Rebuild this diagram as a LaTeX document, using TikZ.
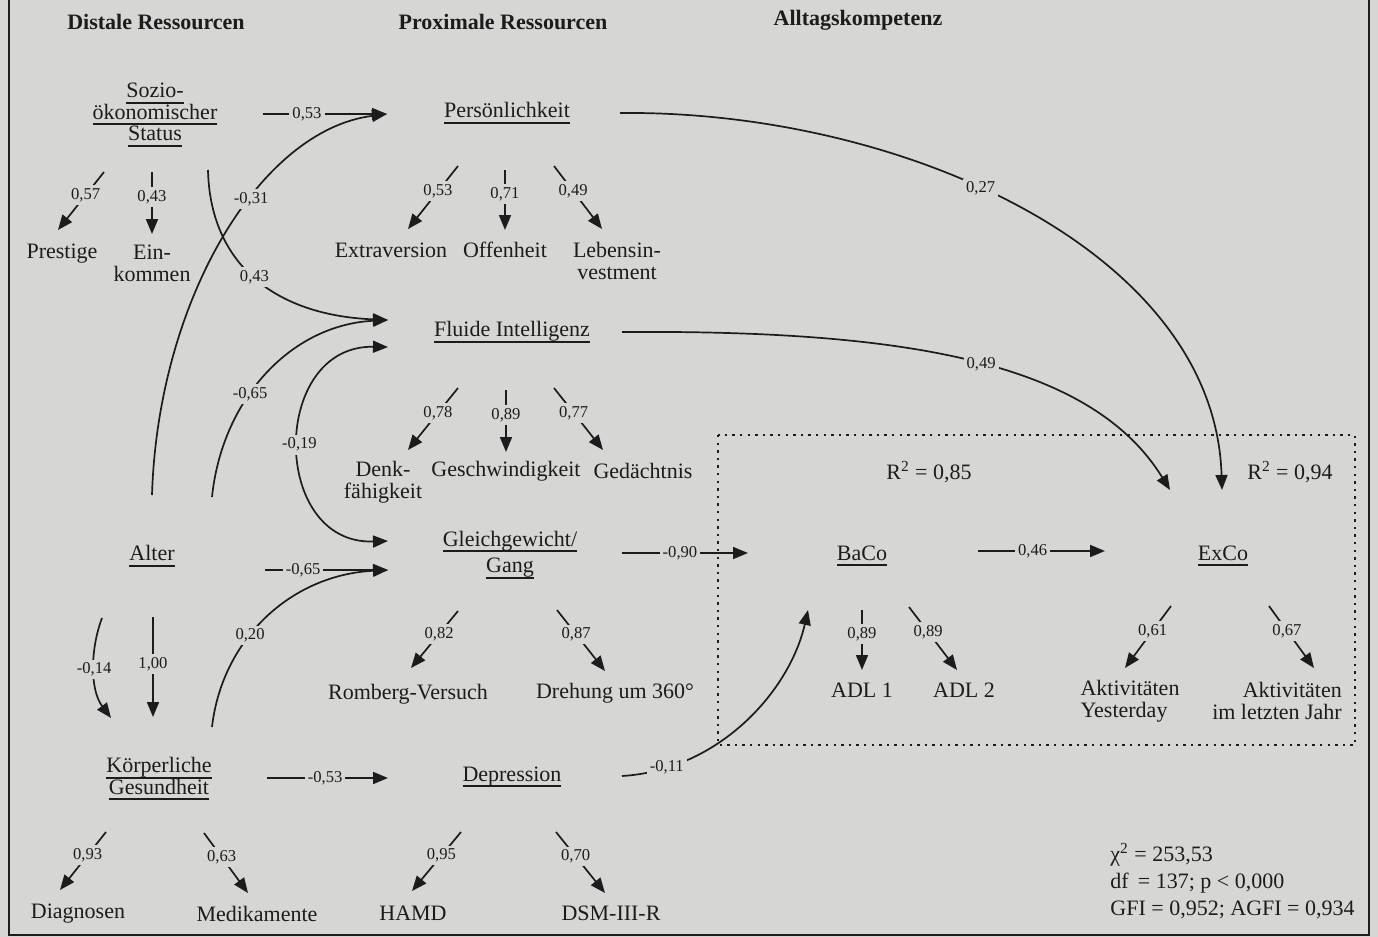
\documentclass[tikz,border=0pt]{standalone}
\usepackage{fontspec}
\setmainfont{Liberation Serif}
\usetikzlibrary{arrows.meta}
\definecolor{bg}{RGB}{214,214,212}
\definecolor{ink}{RGB}{28,28,28}
\newcommand\myul[1]{\setbox0=\hbox{#1}\rlap{\color{ink}\rule[-3pt]{\wd0}{1pt}}\box0}
\begin{document}
\begin{tikzpicture}[x=0.5pt,y=-0.5pt,
  lat/.style={font=\fontsize{11}{10.8}\selectfont, align=center, inner sep=1pt, text=ink},
  ind/.style={font=\fontsize{11}{11}\selectfont, align=center, inner sep=1pt, text=ink},
  hdr/.style={font=\bfseries\fontsize{11}{13}\selectfont, text=ink, inner sep=1pt},
  lab/.style={font=\fontsize{8.3}{9}\selectfont, fill=bg, inner sep=1.5pt, text=ink},
  arr/.style={draw=ink, line width=0.85pt, -{Triangle[length=7.5pt,width=6pt]}},
  darr/.style={draw=ink, line width=0.85pt, {Triangle[length=7.5pt,width=6pt]}-{Triangle[length=7.5pt,width=6pt]}},
  box/.style={draw=ink, line width=0.9pt, dash pattern=on 1.2pt off 2.6pt}
]
\fill[bg] (0,0) rectangle (1378,937);
\useasboundingbox (0,0) rectangle (1378,937);
\draw[ink, line width=1.2pt] (9,0) -- (9,935) -- (1369,935) -- (1369,0);

% headers
\node[hdr] (hd1) at (156,22) {Distale Ressourcen};
\node[hdr] (hd2) at (503,22) {Proximale Ressourcen};
\node[hdr] (hd3) at (858,20) {Alltagskompetenz};

% latent variables
\node[lat] (soz) at (155,115) {\myul{Sozio-}\\\myul{ökonomischer}\\\myul{Status}};
\node[lat] (pers) at (507,113) {\myul{Persönlichkeit}};
\node[lat] (flu) at (512,332) {\myul{Fluide Intelligenz}};
\node[lat] (gle) at (510,555) {\myul{Gleichgewicht/}\\[2.5pt]\myul{Gang}};
\node[lat] (dep) at (512,777) {\myul{Depression}};
\node[lat] (alt) at (152,556) {\myul{Alter}};
\node[lat] (kor) at (159,779) {\myul{Körperliche}\\\myul{Gesundheit}};
\node[lat] (baco) at (862,556) {\myul{BaCo}};
\node[lat] (exco) at (1223,556) {\myul{ExCo}};

% indicators
\node[ind] (prest) at (62,254) {Prestige};
\node[ind] (eink) at (152,263) {Ein-\\kommen};
\node[ind] (extra) at (391,250) {Extraversion};
\node[ind] (offen) at (505,250) {Offenheit};
\node[ind] (leben) at (617,261) {Lebensin-\\vestment};
\node[ind] (denk) at (383,482) {Denk-\\fähigkeit};
\node[ind] (gesch) at (506,471) {Geschwindigkeit};
\node[ind] (gedae) at (643,471) {Gedächtnis};
\node[ind] (romb) at (408,694) {Romberg-Versuch};
\node[ind] (dreh) at (615,693) {Drehung um 360°};
\node[ind] (diag) at (78,914) {Diagnosen};
\node[ind] (medi) at (257,914) {Medikamente};
\node[ind] (hamd) at (413,913) {HAMD};
\node[ind] (dsm) at (611,913) {DSM-III-R};
\node[ind] (adl1) at (862,690) {ADL 1};
\node[ind] (adl2) at (964,690) {ADL 2};
\node[ind, align=left] (akty) at (1130,701) {Aktivitäten\\Yesterday};
\node[ind, align=right] (aktj) at (1277,701) {Aktivitäten\\im letzten Jahr};

% R^2 and fit
\node[ind] (r1) at (929,472) {R\textsuperscript{2} = 0,85};
\node[ind] (r2) at (1290,472) {R\textsuperscript{2} = 0,94};
\node[ind, align=left, anchor=west, font=\fontsize{11}{13.5}\selectfont] (fit) at (1108,881)
  {χ\textsuperscript{2} = 253,53\\df\, = 137; p < 0,000\\GFI = 0,952; AGFI = 0,934};

% dotted box
\draw[box] (718,435) rectangle (1355,745);

% loading end points
\coordinate (l1a) at (104,172);  \coordinate (l1b) at (58,230);
\coordinate (l2a) at (152,172);  \coordinate (l2b) at (152,234);
\coordinate (l3a) at (458,166);  \coordinate (l3b) at (408,229);
\coordinate (l4a) at (505,170);  \coordinate (l4b) at (505,230);
\coordinate (l5a) at (554,166);  \coordinate (l5b) at (602,229);
\coordinate (l6a) at (458,388);  \coordinate (l6b) at (408,450);
\coordinate (l7a) at (506,390);  \coordinate (l7b) at (506,452);
\coordinate (l8a) at (554,388);  \coordinate (l8b) at (603,450);
\coordinate (l9a) at (458,611);  \coordinate (l9b) at (411,668);
\coordinate (l10a) at (557,610); \coordinate (l10b) at (605,671);
\coordinate (l11a) at (106,832); \coordinate (l11b) at (60,890);
\coordinate (l12a) at (204,833); \coordinate (l12b) at (248,893);
\coordinate (l13a) at (461,832); \coordinate (l13b) at (412,891);
\coordinate (l14a) at (556,832); \coordinate (l14b) at (605,893);
\coordinate (l15a) at (862,610); \coordinate (l15b) at (862,670);
\coordinate (l16a) at (909,607); \coordinate (l16b) at (957,670);
\coordinate (l17a) at (1171,606);\coordinate (l17b) at (1125,668);
\coordinate (l18a) at (1269,606);\coordinate (l18b) at (1314,668);

\draw[arr] (l1a) -- node[lab,pos=.4]{0,57} (l1b);
\draw[arr] (l2a) -- node[lab,pos=.4]{0,43} (l2b);
\draw[arr] (l3a) -- node[lab,pos=.4]{0,53} (l3b);
\draw[arr] (l4a) -- node[lab,pos=.4]{0,71} (l4b);
\draw[arr] (l5a) -- node[lab,pos=.4]{0,49} (l5b);
\draw[arr] (l6a) -- node[lab,pos=.4]{0,78} (l6b);
\draw[arr] (l7a) -- node[lab,pos=.4]{0,89} (l7b);
\draw[arr] (l8a) -- node[lab,pos=.4]{0,77} (l8b);
\draw[arr] (l9a) -- node[lab,pos=.4]{0,82} (l9b);
\draw[arr] (l10a) -- node[lab,pos=.4]{0,87} (l10b);
\draw[arr] (l11a) -- node[lab,pos=.4]{0,93} (l11b);
\draw[arr] (l12a) -- node[lab,pos=.4]{0,63} (l12b);
\draw[arr] (l13a) -- node[lab,pos=.4]{0,95} (l13b);
\draw[arr] (l14a) -- node[lab,pos=.4]{0,70} (l14b);
\draw[arr] (l15a) -- node[lab,pos=.4]{0,89} (l15b);
\draw[arr] (l16a) -- node[lab,pos=.4]{0,89} (l16b);
\draw[arr] (l17a) -- node[lab,pos=.4]{0,61} (l17b);
\draw[arr] (l18a) -- node[lab,pos=.4]{0,67} (l18b);

% structural path end points
\coordinate (pIn) at (387,114);
\coordinate (fIn) at (388,320);
\coordinate (fIn2) at (388,347);
\coordinate (gIn) at (388,541);
\coordinate (gIn2) at (388,570);
\coordinate (bIn) at (748,553);
\coordinate (bIn2) at (808,610);
\coordinate (eIn) at (1105,551);
\coordinate (eIn2) at (1170,490);
\coordinate (eIn3) at (1222,490);
\coordinate (dIn) at (388,778);
\coordinate (kIn) at (111,718);
\coordinate (kIn2) at (153,717);

\coordinate (sozR) at (263,114);
\coordinate (sozB) at (208,170);
\coordinate (altU1) at (152,495);
\coordinate (altU2) at (212,497);
\coordinate (altR) at (265,570);
\coordinate (altD1) at (102,618);
\coordinate (altD2) at (153,617);
\coordinate (korU) at (212,727);
\coordinate (korR) at (267,778);
\coordinate (persR) at (620,113);
\coordinate (fluR) at (622,332);
\coordinate (gleR) at (622,553);
\coordinate (depR) at (622,776);
\coordinate (bacoR) at (978,551);

\draw[arr] (sozR) -- node[lab,pos=.355]{0,53} (pIn);
\draw[arr] (altU1) .. controls (158,300) and (260,130) .. node[lab,pos=.6]{-0,31} (pIn);
\draw[arr] (sozB) .. controls (210,260) and (270,315) .. node[lab,pos=.5]{0,43} (fIn);
\draw[arr] (altU2) .. controls (222,400) and (290,325) .. node[lab,pos=.4]{-0,65} (fIn);
\draw[darr] (fIn2) .. controls (270,345) and (270,545) .. node[lab,pos=.5]{-0,19} (gIn);
\draw[arr] (altR) -- node[lab,pos=.31]{-0,65} (gIn2);
\draw[arr] (korU) .. controls (222,640) and (290,575) .. node[lab,pos=.4]{0,20} (gIn2);
\draw[arr] (altD1) .. controls (90,650) and (90,690) .. node[lab,pos=.5]{-0,14} (kIn);
\draw[arr] (altD2) -- node[lab,pos=.47]{1,00} (kIn2);
\draw[arr] (korR) -- node[lab,pos=.48]{-0,53} (dIn);
\draw[arr] (depR) .. controls (720,770) and (790,690) .. node[lab,pos=.16]{-0,11} (bIn2);
\draw[arr] (gleR) -- node[lab,pos=.46]{-0,90} (bIn);
\draw[arr] (bacoR) -- node[lab,pos=.43]{0,46} (eIn);
\draw[arr] (persR) .. controls (900,110) and (1215,250) .. node[lab,pos=.44]{0,27} (eIn3);
\draw[arr] (fluR) .. controls (900,330) and (1090,360) .. node[lab,pos=.52]{0,49} (eIn2);
\end{tikzpicture}
\end{document}
